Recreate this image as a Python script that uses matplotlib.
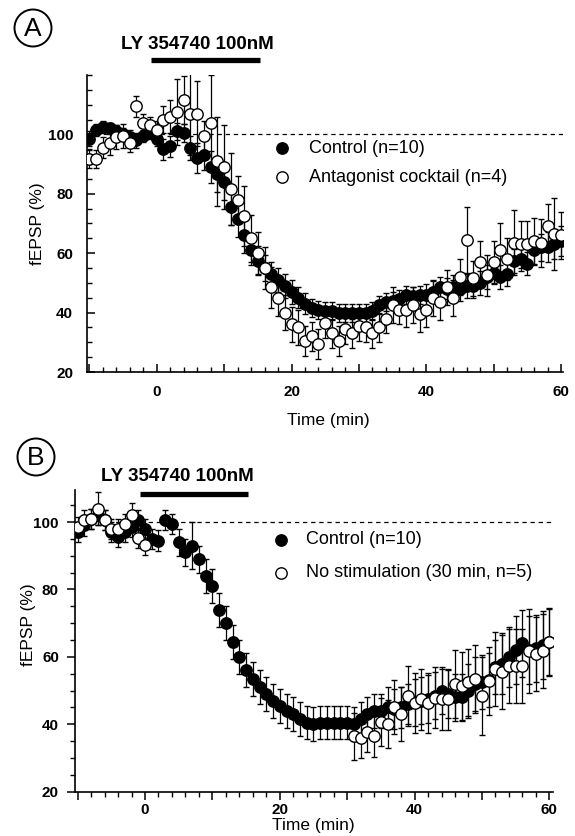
import matplotlib
matplotlib.use("Agg")
import matplotlib.pyplot as plt
from matplotlib.patches import Circle
from matplotlib.ticker import MultipleLocator, FuncFormatter

plt.rcParams['font.family'] = ['Liberation Sans', 'DejaVu Sans']

# ---------------- data ----------------
time_full = list(range(-10, 61))

# Panel A
ctrl_A = [98.5, 101.5, 102.5, 102, 101, 100, 99, 98, 99.5, 100.5,
          98.5, 95, 96, 101, 100.5, 95.5, 92, 93, 89, 86.5,
          84, 75.5, 71.5, 66, 61, 57.5, 55, 53, 51, 49,
          47, 45, 43, 41.5, 41, 40.5, 40.5, 40, 40, 40,
          40, 40, 40.5, 42.5, 43.5, 44, 44.5, 46, 45.5, 46,
          46, 47, 48.5, 48, 48.5, 48, 49, 49, 50, 52,
          53.5, 52, 53, 57.5, 58, 56.5, 61, 62, 62, 63,
          64]
ctrl_A_err = [2.5, 2, 2, 2, 2, 2, 2.5, 2.5, 2, 2,
              2.5, 3.5, 3.5, 3, 3, 4, 5, 5, 5.5, 6,
              6, 6, 6, 6, 5, 5, 4.5, 4, 4, 4,
              4, 3.5, 3.5, 3, 3, 3, 3, 3, 3, 3,
              3, 3, 3, 3, 3, 3, 3, 3, 3, 3,
              3.5, 3.5, 3.5, 3.5, 4, 4, 4, 4, 4, 4,
              4, 4, 4, 4, 4, 4, 4.5, 4.5, 5, 5,
              5]
antag_A = [91.6, 91.6, 95.5, 97, 99, 99.4, 97, 109.5, 104, 103,
           101.5, 105, 106, 107.5, 111.5, 107, 107, 99.6, 104, 91,
           89, 81.6, 78, 72.5, 65, 60, 55, 48.5, 45, 40,
           36, 35, 30.5, 32, 29.5, 36.5, 33, 30.5, 34.5, 33,
           35.5, 35, 33, 35, 38, 42.5, 41, 41, 42.5, 39.5,
           41, 45, 43.5, 48.5, 45, 52, 64.5, 51.5, 57, 52.5,
           57, 61, 58, 63.5, 63, 63, 64, 63.5, 69, 66.5,
           66]
antag_A_err = [3, 3, 3.5, 4, 4, 4, 3, 3.5, 3, 3,
               3, 4.5, 5.5, 11, 8, 14, 11, 5, 16, 15,
               14, 12, 8, 10, 8, 7, 7, 7, 6, 6,
               6, 6, 5, 5, 5, 5, 5, 5, 5, 5,
               5, 5, 5, 5, 5, 6, 5, 6, 6, 6,
               6, 6, 6, 6, 6, 6, 11, 6, 7, 7,
               7, 9, 7, 11, 8, 8, 8, 8, 7.5, 12,
               8]

# Panel B
ctrl_B = [97, 99, 101, 102, 100.5, 97, 95.5, 97, 98.5, 100.5,
          98, 95, 94.5, 100.5, 99.5, 94, 91, 93, 89, 84,
          81, 74, 70, 64.5, 60, 56, 53.5, 51, 49, 47,
          45.5, 44, 43, 41.5, 40.5, 40, 40.5, 40.5, 40.5, 40.5,
          40.5, 40, 41.5, 43, 44, 44, 45, 44.5, 45, 46,
          46.5, 47, 47.5, 48.5, 50, 49, 48, 48, 50, 52,
          52.5, 53, 57, 58, 60, 62, 64, 62, 62.5, 63.5,
          64.5]
ctrl_B_err = [3, 3, 3, 3, 3, 3, 3, 3, 3, 3,
              3, 3, 3, 3, 3, 4, 4, 7, 4, 5,
              5, 5, 5, 5, 5, 5, 5, 5, 5, 5,
              5, 5, 5, 5, 5, 5, 5, 5, 5, 5,
              5, 5, 5, 5, 5, 5, 6, 6, 6, 6,
              7, 7, 7, 7, 7, 7, 7, 7, 8, 8,
              8, 8, 8, 9, 9, 10, 10, 10, 10, 10,
              10]
time_nostim = list(range(-10, 1)) + list(range(31, 61))
nostim_B = [98.6, 100.5, 101, 104, 100.5, 98, 97.8, 99.5, 102, 95.2, 93.2,
            36.4, 35.9, 37.8, 36.4, 40.7, 40.1, 45.1, 43, 48.4, 46.3,
            47.4, 46.3, 47.9, 47.4, 47.4, 51.9, 51.4, 52.4, 53.4, 48.4,
            52.9, 56.4, 55.4, 57.4, 57.4, 57.4, 61.8, 60.8, 61.8, 64.3]
nostim_B_err = [3, 3, 3, 5, 3, 3, 3, 3, 3.5, 3, 3,
                7, 6, 6, 6, 7, 7, 8, 8, 9, 9,
                9, 9, 9, 9, 9, 10, 10, 10, 10, 11.5,
                10, 11, 11, 11, 11, 11, 12.5, 11, 11, 10]

drug_window = [-0.8, 15.3]
drug_label = "LY 354740 100nM"
legend_A = ["Control (n=10)", "Antagonist cocktail (n=4)"]
legend_B = ["Control (n=10)", "No stimulation (30 min, n=5)"]
xticks_major = [-10, 0, 10, 20, 30, 40, 50, 60]
yticks_major = [20, 40, 60, 80, 100]

# ---------------- figure ----------------
W, H = 575, 836
fig = plt.figure(figsize=(W / 100, H / 100), dpi=100)


def px_axes(l, t, r, b):
    return fig.add_axes([l / W, 1 - b / H, (r - l) / W, (b - t) / H])


axA = px_axes(87, 75, 563, 372)
axB = px_axes(74.5, 490, 552.7, 791.7)

ms = 8.2
common = dict(fmt='o', ms=ms, mec='black', ecolor='black', elinewidth=0.9,
              capsize=2.2, capthick=0.9, mew=1.0)


def xfmt(v, pos):
    iv = int(round(v))
    return str(iv) if (iv >= 0 and iv % 20 == 0) else ""


def style(ax, direction, ylim, xlim, xpad, ypad):
    for s in ['top', 'right']:
        ax.spines[s].set_visible(False)
    for s in ['left', 'bottom']:
        ax.spines[s].set_linewidth(1.2)
    ax.set_xlim(*xlim)
    ax.set_ylim(*ylim)
    ax.set_xticks(xticks_major)
    ax.xaxis.set_minor_locator(MultipleLocator(2))
    ax.xaxis.set_major_formatter(FuncFormatter(xfmt))
    ax.set_yticks(yticks_major)
    ax.yaxis.set_minor_locator(MultipleLocator(5))
    ax.tick_params(which='major', direction=direction, length=5.7, width=1.1,
                   labelsize=11)
    ax.tick_params(which='minor', direction=direction, length=3.5, width=1.0)
    ax.tick_params(axis='x', which='major', pad=xpad)
    ax.tick_params(axis='y', which='major', pad=ypad)
    for lab in ax.get_xticklabels() + ax.get_yticklabels():
        lab.set_fontweight('bold')
    ax.axhline(100, color='black', lw=0.9, ls=(0, (3.5, 3)), zorder=0)
    ax.set_xlabel("Time (min)", fontsize=12.5, va='center')
    ax.set_ylabel("fEPSP (%)", fontsize=12.5, va='center')


# Panel A
style(axA, 'in', (20, 120), (-10.34, 60.28), xpad=9.5, ypad=10)
axA.errorbar(time_full, ctrl_A, yerr=ctrl_A_err, mfc='black', zorder=2, **common)
axA.errorbar(time_full, antag_A, yerr=antag_A_err, mfc='white', zorder=3, **common)
axA.plot(drug_window, [124.9, 124.9], color='black', lw=3.8, solid_capstyle='butt',
         clip_on=False)
axA.text(6.0, 130.3, drug_label, ha='center', va='center',
         fontsize=13.5, fontweight='bold', clip_on=False)
axA.plot([18.6], [95.3], 'o', ms=ms, mfc='black', mec='black')
axA.plot([18.6], [85.5], 'o', ms=ms, mfc='white', mec='black', mew=1.0)
axA.text(22.6, 95.3, legend_A[0], fontsize=13, va='center')
axA.text(22.6, 85.5, legend_A[1], fontsize=13, va='center')
axA.xaxis.set_label_coords(0.506, -0.163)
axA.yaxis.set_label_coords(-0.104, 0.5)

# Panel B
style(axB, 'out', (20, 109.5), (-10.46, 60.5), xpad=2.6, ypad=5.5)
axB.errorbar(time_full, ctrl_B, yerr=ctrl_B_err, mfc='black', zorder=2, **common)
axB.errorbar(time_nostim, nostim_B, yerr=nostim_B_err, mfc='white', zorder=3, **common)
axB.plot(drug_window, [108.3, 108.3], color='black', lw=3.8, solid_capstyle='butt',
         clip_on=False)
axB.text(4.8, 113.4, drug_label, ha='center', va='center',
         fontsize=13.5, fontweight='bold', clip_on=False)
axB.plot([20.2], [94.7], 'o', ms=ms, mfc='black', mec='black')
axB.plot([20.2], [84.9], 'o', ms=ms, mfc='white', mec='black', mew=1.0)
axB.text(23.9, 94.7, legend_B[0], fontsize=13, va='center')
axB.text(23.9, 84.9, legend_B[1], fontsize=13, va='center')
axB.xaxis.set_label_coords(0.499, -0.113)
axB.yaxis.set_label_coords(-0.097, 0.553)

# Panel letters in circles
for (cx, cy, letter) in [(33, 28, "A"), (36, 457, "B")]:
    fig.add_artist(Circle((cx / 100, (H - cy) / 100), 0.185, transform=fig.dpi_scale_trans,
                          fill=False, ec='black', lw=1.4))
    fig.text(cx / W, 1 - (cy + 1) / H, letter, ha='center', va='center', fontsize=19)

fig.savefig("out.png", dpi=100)
